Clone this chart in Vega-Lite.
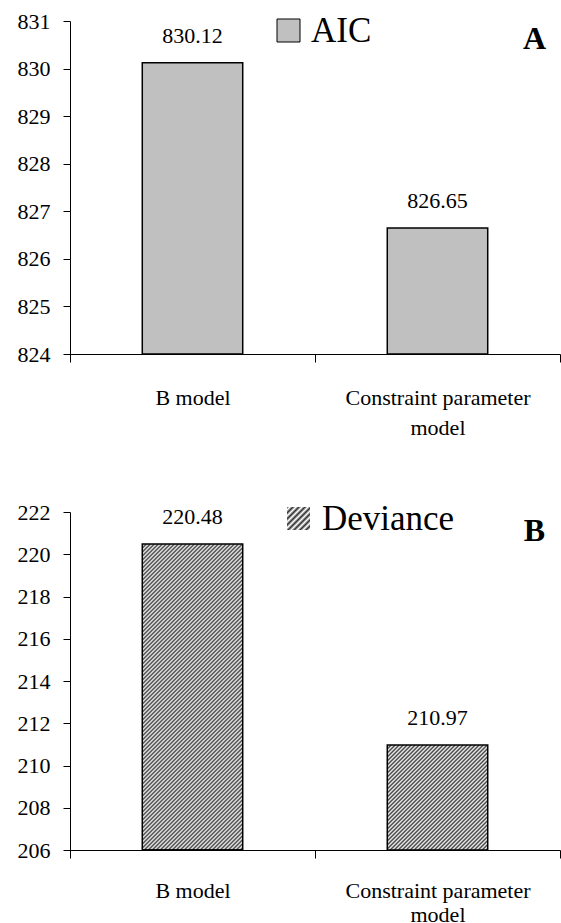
{
  "$schema": "https://vega.github.io/schema/vega-lite/v6.json",
  "padding": {"left": 17, "top": 10, "right": 0, "bottom": 0},
  "background": "white",
  "spacing": 63,
  "config": {
    "font": "Liberation Serif",
    "view": {"stroke": null},
    "axis": {"labelFont": "Liberation Serif", "labelColor": "#000", "domainColor": "#000", "tickColor": "#000", "grid": false, "domainWidth": 1, "tickWidth": 1}
  },
  "resolve": {"scale": {"x": "independent", "y": "independent", "color": "independent", "opacity": "independent"}, "legend": {"color": "independent", "opacity": "independent"}},
  "vconcat": [
    {
      "width": 490,
      "height": 333,
      "title": {"text": "A", "anchor": "end", "frame": "group", "font": "Liberation Serif", "fontSize": 32, "fontWeight": "bold", "baseline": "alphabetic", "offset": -71, "dx": -14, "color": "#000"},
      "data": {"values": [
        {"model": "B model", "value": 830.12, "measure": "AIC"},
        {"model": "Constraint parameter model", "value": 826.65, "measure": "AIC"}
      ]},
      "encoding": {
        "x": {"field": "model", "type": "nominal", "sort": null,
          "scale": {"domain": ["B model", "Constraint parameter model"], "paddingInner": 0, "paddingOuter": 0},
          "axis": {"title": null, "labelAngle": 0, "labelFontSize": 22, "labelPadding": 25, "tickSize": 8, "tickBand": "extent", "labelLineHeight": 30, "labelLimit": 0, "labelOverlap": false, "labelBound": false, "labelFont": "Liberation Serif",
            "labelExpr": "datum.label == 'Constraint parameter model' ? ['Constraint parameter', 'model'] : datum.label"}},
        "y": {"field": "value", "type": "quantitative",
          "scale": {"domain": [824, 831], "zero": false, "nice": false},
          "axis": {"title": null, "values": [824, 825, 826, 827, 828, 829, 830, 831], "format": "d", "labelFontSize": 22, "tickSize": 7, "labelPadding": 13, "labelFont": "Liberation Serif"}}
      },
      "layer": [
        {
          "mark": {"type": "bar", "width": {"band": 0.41}, "stroke": "#000", "strokeWidth": 1.5},
          "encoding": {
            "y2": {"datum": 824},
            "color": {"field": "measure", "type": "nominal", "scale": {"range": ["#c0c0c0"]},
              "legend": {"orient": "none", "legendX": 201, "legendY": -8, "title": null, "symbolType": "square", "symbolSize": 529, "symbolStrokeColor": "#000", "symbolStrokeWidth": 1, "labelFont": "Liberation Serif", "labelFontSize": 35, "labelOffset": 5, "labelColor": "#000", "padding": 0, "labelLimit": 0}}
          }
        },
        {
          "mark": {"type": "text", "baseline": "alphabetic", "dy": -20, "fontSize": 22, "font": "Liberation Serif", "color": "#000"},
          "encoding": {"text": {"field": "value", "type": "quantitative", "format": ".2f"}}
        }
      ]
    },
    {
      "width": 490,
      "height": 338,
      "title": {"text": "B", "anchor": "end", "frame": "group", "font": "Liberation Serif", "fontSize": 32, "fontWeight": "bold", "baseline": "alphabetic", "offset": -72, "dx": -15, "color": "#000"},
      "data": {"values": [
        {"model": "B model", "value": 220.48, "measure": "Deviance"},
        {"model": "Constraint parameter model", "value": 210.97, "measure": "Deviance"}
      ]},
      "encoding": {
        "x": {"field": "model", "type": "nominal", "sort": null,
          "scale": {"domain": ["B model", "Constraint parameter model"], "paddingInner": 0, "paddingOuter": 0},
          "axis": {"title": null, "labelAngle": 0, "labelFontSize": 22, "labelPadding": 22, "tickSize": 8, "tickBand": "extent", "labelLineHeight": 24, "labelLimit": 0, "labelOverlap": false, "labelBound": false, "labelFont": "Liberation Serif",
            "labelExpr": "datum.label == 'Constraint parameter model' ? ['Constraint parameter', 'model'] : datum.label"}},
        "y": {"field": "value", "type": "quantitative",
          "scale": {"domain": [206, 222], "zero": false, "nice": false},
          "axis": {"title": null, "values": [206, 208, 210, 212, 214, 216, 218, 220, 222], "format": "d", "labelFontSize": 22, "tickSize": 7, "labelPadding": 13, "labelFont": "Liberation Serif"}}
      },
      "layer": [
        {
          "transform": [{"filter": "datum.model == 'B model'"}],
          "mark": {"type": "bar", "width": {"band": 0.41}, "stroke": "#000", "strokeWidth": 1.5,
            "fill": {"gradient": "linear", "x1": 0, "y1": 0, "x2": 0.4845, "y2": 1.4754, "stops": [
              {"offset":0,"color":"#333"},{"offset":0.004,"color":"#fff"},{"offset":0.008,"color":"#333"},{"offset":0.012,"color":"#fff"},{"offset":0.016,"color":"#333"},{"offset":0.02,"color":"#fff"},{"offset":0.024,"color":"#333"},{"offset":0.028,"color":"#fff"},{"offset":0.032,"color":"#333"},{"offset":0.036,"color":"#fff"},
              {"offset":0.04,"color":"#333"},{"offset":0.044,"color":"#fff"},{"offset":0.048,"color":"#333"},{"offset":0.052,"color":"#fff"},{"offset":0.056,"color":"#333"},{"offset":0.06,"color":"#fff"},{"offset":0.064,"color":"#333"},{"offset":0.068,"color":"#fff"},{"offset":0.072,"color":"#333"},{"offset":0.076,"color":"#fff"},
              {"offset":0.08,"color":"#333"},{"offset":0.084,"color":"#fff"},{"offset":0.088,"color":"#333"},{"offset":0.092,"color":"#fff"},{"offset":0.096,"color":"#333"},{"offset":0.1,"color":"#fff"},{"offset":0.104,"color":"#333"},{"offset":0.108,"color":"#fff"},{"offset":0.112,"color":"#333"},{"offset":0.116,"color":"#fff"},
              {"offset":0.12,"color":"#333"},{"offset":0.124,"color":"#fff"},{"offset":0.128,"color":"#333"},{"offset":0.132,"color":"#fff"},{"offset":0.136,"color":"#333"},{"offset":0.14,"color":"#fff"},{"offset":0.144,"color":"#333"},{"offset":0.148,"color":"#fff"},{"offset":0.152,"color":"#333"},{"offset":0.156,"color":"#fff"},
              {"offset":0.16,"color":"#333"},{"offset":0.164,"color":"#fff"},{"offset":0.168,"color":"#333"},{"offset":0.172,"color":"#fff"},{"offset":0.176,"color":"#333"},{"offset":0.18,"color":"#fff"},{"offset":0.184,"color":"#333"},{"offset":0.188,"color":"#fff"},{"offset":0.192,"color":"#333"},{"offset":0.196,"color":"#fff"},
              {"offset":0.2,"color":"#333"},{"offset":0.204,"color":"#fff"},{"offset":0.208,"color":"#333"},{"offset":0.212,"color":"#fff"},{"offset":0.216,"color":"#333"},{"offset":0.22,"color":"#fff"},{"offset":0.224,"color":"#333"},{"offset":0.228,"color":"#fff"},{"offset":0.232,"color":"#333"},{"offset":0.236,"color":"#fff"},
              {"offset":0.24,"color":"#333"},{"offset":0.244,"color":"#fff"},{"offset":0.248,"color":"#333"},{"offset":0.252,"color":"#fff"},{"offset":0.256,"color":"#333"},{"offset":0.26,"color":"#fff"},{"offset":0.264,"color":"#333"},{"offset":0.268,"color":"#fff"},{"offset":0.272,"color":"#333"},{"offset":0.276,"color":"#fff"},
              {"offset":0.28,"color":"#333"},{"offset":0.284,"color":"#fff"},{"offset":0.288,"color":"#333"},{"offset":0.292,"color":"#fff"},{"offset":0.296,"color":"#333"},{"offset":0.3,"color":"#fff"},{"offset":0.304,"color":"#333"},{"offset":0.308,"color":"#fff"},{"offset":0.312,"color":"#333"},{"offset":0.316,"color":"#fff"},
              {"offset":0.32,"color":"#333"},{"offset":0.324,"color":"#fff"},{"offset":0.328,"color":"#333"},{"offset":0.332,"color":"#fff"},{"offset":0.336,"color":"#333"},{"offset":0.34,"color":"#fff"},{"offset":0.344,"color":"#333"},{"offset":0.348,"color":"#fff"},{"offset":0.352,"color":"#333"},{"offset":0.356,"color":"#fff"},
              {"offset":0.36,"color":"#333"},{"offset":0.364,"color":"#fff"},{"offset":0.368,"color":"#333"},{"offset":0.372,"color":"#fff"},{"offset":0.376,"color":"#333"},{"offset":0.38,"color":"#fff"},{"offset":0.384,"color":"#333"},{"offset":0.388,"color":"#fff"},{"offset":0.392,"color":"#333"},{"offset":0.396,"color":"#fff"},
              {"offset":0.4,"color":"#333"},{"offset":0.404,"color":"#fff"},{"offset":0.408,"color":"#333"},{"offset":0.412,"color":"#fff"},{"offset":0.416,"color":"#333"},{"offset":0.42,"color":"#fff"},{"offset":0.424,"color":"#333"},{"offset":0.428,"color":"#fff"},{"offset":0.432,"color":"#333"},{"offset":0.436,"color":"#fff"},
              {"offset":0.44,"color":"#333"},{"offset":0.444,"color":"#fff"},{"offset":0.448,"color":"#333"},{"offset":0.452,"color":"#fff"},{"offset":0.456,"color":"#333"},{"offset":0.46,"color":"#fff"},{"offset":0.464,"color":"#333"},{"offset":0.468,"color":"#fff"},{"offset":0.472,"color":"#333"},{"offset":0.476,"color":"#fff"},
              {"offset":0.48,"color":"#333"},{"offset":0.484,"color":"#fff"},{"offset":0.488,"color":"#333"},{"offset":0.492,"color":"#fff"},{"offset":0.496,"color":"#333"},{"offset":0.5,"color":"#fff"},{"offset":0.504,"color":"#333"},{"offset":0.508,"color":"#fff"},{"offset":0.512,"color":"#333"},{"offset":0.516,"color":"#fff"},
              {"offset":0.52,"color":"#333"},{"offset":0.524,"color":"#fff"},{"offset":0.528,"color":"#333"},{"offset":0.532,"color":"#fff"},{"offset":0.536,"color":"#333"},{"offset":0.54,"color":"#fff"},{"offset":0.544,"color":"#333"},{"offset":0.548,"color":"#fff"},{"offset":0.552,"color":"#333"},{"offset":0.556,"color":"#fff"},
              {"offset":0.56,"color":"#333"},{"offset":0.564,"color":"#fff"},{"offset":0.568,"color":"#333"},{"offset":0.572,"color":"#fff"},{"offset":0.576,"color":"#333"},{"offset":0.58,"color":"#fff"},{"offset":0.584,"color":"#333"},{"offset":0.588,"color":"#fff"},{"offset":0.592,"color":"#333"},{"offset":0.596,"color":"#fff"},
              {"offset":0.6,"color":"#333"},{"offset":0.604,"color":"#fff"},{"offset":0.608,"color":"#333"},{"offset":0.612,"color":"#fff"},{"offset":0.616,"color":"#333"},{"offset":0.62,"color":"#fff"},{"offset":0.624,"color":"#333"},{"offset":0.628,"color":"#fff"},{"offset":0.632,"color":"#333"},{"offset":0.636,"color":"#fff"},
              {"offset":0.64,"color":"#333"},{"offset":0.644,"color":"#fff"},{"offset":0.648,"color":"#333"},{"offset":0.652,"color":"#fff"},{"offset":0.656,"color":"#333"},{"offset":0.66,"color":"#fff"},{"offset":0.664,"color":"#333"},{"offset":0.668,"color":"#fff"},{"offset":0.672,"color":"#333"},{"offset":0.676,"color":"#fff"},
              {"offset":0.68,"color":"#333"},{"offset":0.684,"color":"#fff"},{"offset":0.688,"color":"#333"},{"offset":0.692,"color":"#fff"},{"offset":0.696,"color":"#333"},{"offset":0.7,"color":"#fff"},{"offset":0.704,"color":"#333"},{"offset":0.708,"color":"#fff"},{"offset":0.712,"color":"#333"},{"offset":0.716,"color":"#fff"},
              {"offset":0.72,"color":"#333"},{"offset":0.724,"color":"#fff"},{"offset":0.728,"color":"#333"},{"offset":0.732,"color":"#fff"},{"offset":0.736,"color":"#333"},{"offset":0.74,"color":"#fff"},{"offset":0.744,"color":"#333"},{"offset":0.748,"color":"#fff"},{"offset":0.752,"color":"#333"},{"offset":0.756,"color":"#fff"},
              {"offset":0.76,"color":"#333"},{"offset":0.764,"color":"#fff"},{"offset":0.768,"color":"#333"},{"offset":0.772,"color":"#fff"},{"offset":0.776,"color":"#333"},{"offset":0.78,"color":"#fff"},{"offset":0.784,"color":"#333"},{"offset":0.788,"color":"#fff"},{"offset":0.792,"color":"#333"},{"offset":0.796,"color":"#fff"},
              {"offset":0.8,"color":"#333"},{"offset":0.804,"color":"#fff"},{"offset":0.808,"color":"#333"},{"offset":0.812,"color":"#fff"},{"offset":0.816,"color":"#333"}
            ]}},
          "encoding": {"y2": {"datum": 206}}
        },
        {
          "transform": [{"filter": "datum.model != 'B model'"}],
          "mark": {"type": "bar", "width": {"band": 0.41}, "stroke": "#000", "strokeWidth": 1.5,
            "fill": {"gradient": "linear", "x1": 0, "y1": 0, "x2": 1.1893, "y2": 1.2432, "stops": [
              {"offset":0,"color":"#333"},{"offset":0.008,"color":"#fff"},{"offset":0.016,"color":"#333"},{"offset":0.024,"color":"#fff"},{"offset":0.032,"color":"#333"},{"offset":0.04,"color":"#fff"},{"offset":0.048,"color":"#333"},{"offset":0.056,"color":"#fff"},{"offset":0.064,"color":"#333"},{"offset":0.072,"color":"#fff"},
              {"offset":0.08,"color":"#333"},{"offset":0.088,"color":"#fff"},{"offset":0.096,"color":"#333"},{"offset":0.104,"color":"#fff"},{"offset":0.112,"color":"#333"},{"offset":0.12,"color":"#fff"},{"offset":0.128,"color":"#333"},{"offset":0.136,"color":"#fff"},{"offset":0.144,"color":"#333"},{"offset":0.152,"color":"#fff"},
              {"offset":0.16,"color":"#333"},{"offset":0.168,"color":"#fff"},{"offset":0.176,"color":"#333"},{"offset":0.184,"color":"#fff"},{"offset":0.192,"color":"#333"},{"offset":0.2,"color":"#fff"},{"offset":0.208,"color":"#333"},{"offset":0.216,"color":"#fff"},{"offset":0.224,"color":"#333"},{"offset":0.232,"color":"#fff"},
              {"offset":0.24,"color":"#333"},{"offset":0.248,"color":"#fff"},{"offset":0.256,"color":"#333"},{"offset":0.264,"color":"#fff"},{"offset":0.272,"color":"#333"},{"offset":0.28,"color":"#fff"},{"offset":0.288,"color":"#333"},{"offset":0.296,"color":"#fff"},{"offset":0.304,"color":"#333"},{"offset":0.312,"color":"#fff"},
              {"offset":0.32,"color":"#333"},{"offset":0.328,"color":"#fff"},{"offset":0.336,"color":"#333"},{"offset":0.344,"color":"#fff"},{"offset":0.352,"color":"#333"},{"offset":0.36,"color":"#fff"},{"offset":0.368,"color":"#333"},{"offset":0.376,"color":"#fff"},{"offset":0.384,"color":"#333"},{"offset":0.392,"color":"#fff"},
              {"offset":0.4,"color":"#333"},{"offset":0.408,"color":"#fff"},{"offset":0.416,"color":"#333"},{"offset":0.424,"color":"#fff"},{"offset":0.432,"color":"#333"},{"offset":0.44,"color":"#fff"},{"offset":0.448,"color":"#333"},{"offset":0.456,"color":"#fff"},{"offset":0.464,"color":"#333"},{"offset":0.472,"color":"#fff"},
              {"offset":0.48,"color":"#333"},{"offset":0.488,"color":"#fff"},{"offset":0.496,"color":"#333"},{"offset":0.504,"color":"#fff"},{"offset":0.512,"color":"#333"},{"offset":0.52,"color":"#fff"},{"offset":0.528,"color":"#333"},{"offset":0.536,"color":"#fff"},{"offset":0.544,"color":"#333"},{"offset":0.552,"color":"#fff"},
              {"offset":0.56,"color":"#333"},{"offset":0.568,"color":"#fff"},{"offset":0.576,"color":"#333"},{"offset":0.584,"color":"#fff"},{"offset":0.592,"color":"#333"},{"offset":0.6,"color":"#fff"},{"offset":0.608,"color":"#333"},{"offset":0.616,"color":"#fff"},{"offset":0.624,"color":"#333"},{"offset":0.632,"color":"#fff"},
              {"offset":0.64,"color":"#333"},{"offset":0.648,"color":"#fff"},{"offset":0.656,"color":"#333"},{"offset":0.664,"color":"#fff"},{"offset":0.672,"color":"#333"},{"offset":0.68,"color":"#fff"},{"offset":0.688,"color":"#333"},{"offset":0.696,"color":"#fff"},{"offset":0.704,"color":"#333"},{"offset":0.712,"color":"#fff"},
              {"offset":0.72,"color":"#333"},{"offset":0.728,"color":"#fff"},{"offset":0.736,"color":"#333"},{"offset":0.744,"color":"#fff"},{"offset":0.752,"color":"#333"},{"offset":0.76,"color":"#fff"},{"offset":0.768,"color":"#333"},{"offset":0.776,"color":"#fff"},{"offset":0.784,"color":"#333"},{"offset":0.792,"color":"#fff"},
              {"offset":0.8,"color":"#333"},{"offset":0.808,"color":"#fff"},{"offset":0.816,"color":"#333"},{"offset":0.824,"color":"#fff"}
            ]}},
          "encoding": {"y2": {"datum": 206}}
        },
        {
          "transform": [{"filter": "datum.model == 'B model'"}],
          "mark": {"type": "bar", "width": {"band": 0.41}, "stroke": "#000", "strokeWidth": 1,
            "fill": {"gradient": "linear", "x1": 0, "y1": 0, "x2": 1.087, "y2": 1.087, "stops": [
              {"offset":0,"color":"#333"},{"offset":0.06,"color":"#fff"},{"offset":0.12,"color":"#333"},{"offset":0.18,"color":"#fff"},{"offset":0.24,"color":"#333"},{"offset":0.3,"color":"#fff"},{"offset":0.36,"color":"#333"},{"offset":0.42,"color":"#fff"},{"offset":0.48,"color":"#333"},{"offset":0.54,"color":"#fff"},{"offset":0.6,"color":"#333"},{"offset":0.66,"color":"#fff"},{"offset":0.72,"color":"#333"},{"offset":0.78,"color":"#fff"},{"offset":0.84,"color":"#333"},{"offset":0.9,"color":"#fff"},{"offset":0.96,"color":"#333"}
            ]}},
          "encoding": {
            "y": {"datum": 206},
            "y2": {"datum": 206},
            "opacity": {"field": "measure", "type": "nominal", "scale": {"range": [1]},
              "legend": {"orient": "none", "legendX": 211, "legendY": -11, "title": null, "symbolType": "square", "symbolSize": 529, "symbolStrokeColor": "#000", "symbolStrokeWidth": 1, "labelFont": "Liberation Serif", "labelFontSize": 35, "labelOffset": 6, "labelColor": "#000", "padding": 0, "labelLimit": 0}}
          }
        },
        {
          "mark": {"type": "text", "baseline": "alphabetic", "dy": -20, "fontSize": 22, "font": "Liberation Serif", "color": "#000"},
          "encoding": {"text": {"field": "value", "type": "quantitative", "format": ".2f"}}
        }
      ]
    }
  ]
}
